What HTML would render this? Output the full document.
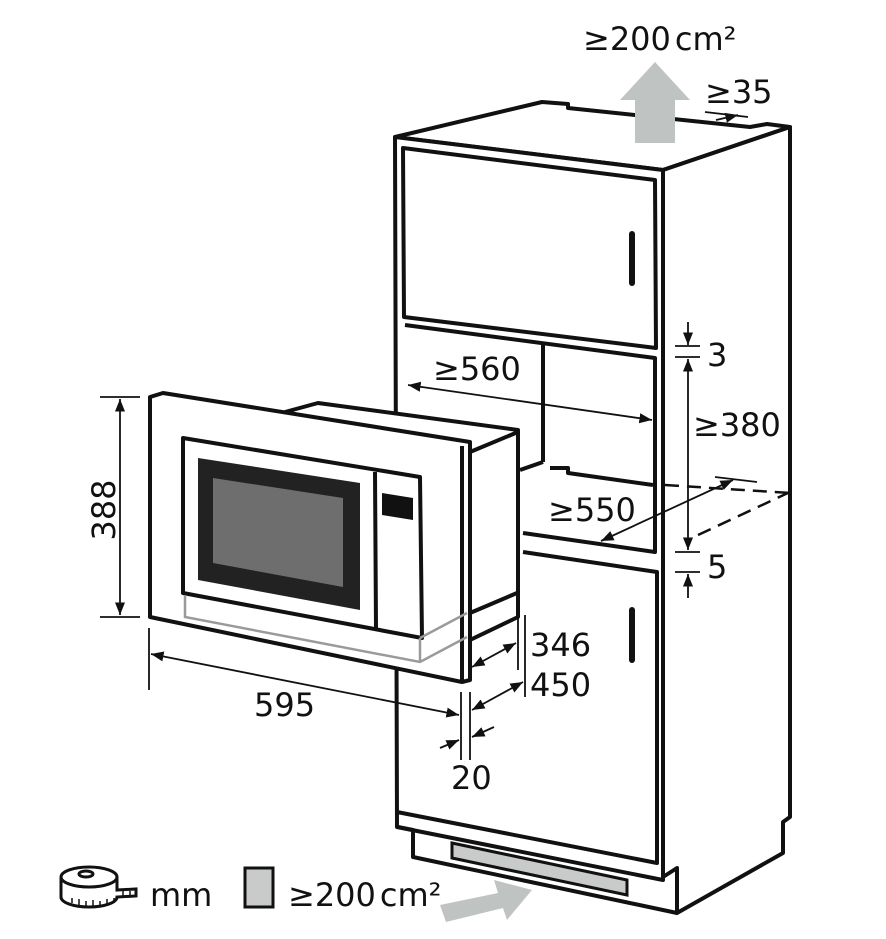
<!DOCTYPE html>
<html><head><meta charset="utf-8"><style>
html,body{margin:0;padding:0;background:#fff}
svg{display:block}
text{font-family:"DejaVu Sans","Liberation Sans",sans-serif;fill:#111}
</style></head><body>
<svg width="886" height="939" viewBox="0 0 886 939" xmlns="http://www.w3.org/2000/svg">
<defs>
<marker id="a" viewBox="0 0 10 10" refX="10" refY="5" markerWidth="7" markerHeight="7" orient="auto-start-reverse"><path d="M0,1 L10,5 L0,9 z" fill="#111"/></marker>
</defs>
<g fill="none" stroke="#111" stroke-width="4" stroke-linejoin="round">
<path d="M395,137 L542,102 L568,104 L568,108 L750,127 L767,124 L790,127 L663,170 Z" fill="#fff"/>
<path d="M663,170 L790,127 L790,817 L783,822 L783,853 L677,913 L677,868 L663,877 Z" fill="#fff"/>
<path d="M395,137 L663,170 L663,880 L397,827 Z" fill="#fff"/>
<path d="M398,827 L413,830 L413,857 L677,913"/>
<path d="M403,148 L655,180 L656,348 L404,317 Z"/>
<line x1="632" y1="234" x2="632" y2="283" stroke-width="6" stroke-linecap="round"/>
<path d="M405,325 L655,358 L655,552 L523,533"/>
<line x1="543" y1="345" x2="543" y2="462"/>
<path d="M543,462 L520,470 M550,468 L568,468 L568,473 L653,485" />
<path d="M523,552 L657,572 L657,863 L397,812"/>
<line x1="632" y1="610" x2="632" y2="660" stroke-width="6" stroke-linecap="round"/>
</g>
<path d="M452,843 L627,880 L627,895 L452,858 Z" fill="#c8cbca" stroke="#111" stroke-width="3"/>
<g stroke="#111" stroke-width="2.5" fill="none" stroke-dasharray="14,8">
<path d="M665,485 L790,493"/>
<path d="M698,535 L790,492"/>
</g>
<g stroke="#111" stroke-width="4" fill="#fff" stroke-linejoin="round">
<path d="M285,412 L318,403 L518,430 L518,617 L470,640 L470,452 Z"/>
<path d="M470,452 L518,432"/>
<path d="M470,613 L517,593"/>
<path d="M150,397 L163,393 L470,442 L470,680 L462,682 L150,617 Z"/>
<path d="M462,446 L462,682" fill="none"/>
<path d="M183,438 L420,477 L422,638 L183,593 Z"/>
<line x1="375" y1="472" x2="376" y2="628"/>
</g>
<path d="M198,458 L360,483 L360,610 L198,580 Z" fill="#222"/>
<path d="M213,478 L343,498 L343,587 L213,563 Z" fill="#6e6e6e"/>
<path d="M382,493 L413,498 L413,520 L382,515 Z" fill="#111"/>
<path d="M185,595 L185,617 L420,662 L467,637 M420,638 L420,662 M420,638 L467,613" stroke="#9a9a9a" stroke-width="2.5" fill="none"/>
<g stroke="#111" stroke-width="1.8" fill="none">
<line x1="100" y1="397" x2="140" y2="397"/><line x1="100" y1="617" x2="140" y2="617"/>
<line x1="120" y1="399" x2="120" y2="615" marker-start="url(#a)" marker-end="url(#a)"/>
<line x1="149" y1="628" x2="149" y2="690"/>
<line x1="151" y1="654" x2="459" y2="715" marker-start="url(#a)" marker-end="url(#a)"/>
<line x1="461" y1="692" x2="461" y2="760"/><line x1="470" y1="692" x2="470" y2="760"/>
<line x1="440" y1="748" x2="459" y2="740" marker-end="url(#a)"/>
<line x1="494" y1="727" x2="472" y2="737" marker-end="url(#a)"/>
<line x1="518" y1="615" x2="518" y2="670"/><line x1="525" y1="615" x2="525" y2="697"/>
<line x1="472" y1="667" x2="516" y2="643" marker-start="url(#a)" marker-end="url(#a)"/>
<line x1="472" y1="710" x2="523" y2="682" marker-start="url(#a)" marker-end="url(#a)"/>
<line x1="408" y1="385" x2="652" y2="420" marker-start="url(#a)" marker-end="url(#a)"/>
<line x1="601" y1="541" x2="733" y2="480" marker-start="url(#a)" marker-end="url(#a)"/>
<line x1="715" y1="477" x2="757" y2="482"/>
<line x1="675" y1="346" x2="700" y2="346"/><line x1="675" y1="357" x2="700" y2="357"/>
<line x1="688" y1="322" x2="688" y2="345" marker-end="url(#a)"/>
<line x1="688" y1="359" x2="688" y2="550" marker-start="url(#a)" marker-end="url(#a)"/>
<line x1="675" y1="552" x2="700" y2="552"/><line x1="675" y1="572" x2="700" y2="572"/>
<line x1="688" y1="598" x2="688" y2="574" marker-end="url(#a)"/>
<line x1="705" y1="112" x2="748" y2="117"/>
<line x1="716" y1="120" x2="738" y2="115" marker-end="url(#a)"/>
</g>
<path d="M635,143 L635,100 L620,100 L655,62 L690,100 L675,100 L675,143 Z" fill="#bfc3c2"/>
<path d="M440,905 L498,893 L494,880 L532,890 L507,920 L503,908 L446,922 Z" fill="#bfc3c2"/>
<g font-size="32">
<text x="583" y="50">≥200<tspan dx="4">cm²</tspan></text>
<text x="705" y="103">≥35</text>
<text x="433" y="380">≥560</text>
<text x="707" y="366">3</text>
<text x="693" y="436">≥380</text>
<text x="548" y="521">≥550</text>
<text x="707" y="578">5</text>
<text x="530" y="656">346</text>
<text x="530" y="696">450</text>
<text x="254" y="716">595</text>
<text x="451" y="789">20</text>
<text transform="translate(115,510) rotate(-90)" text-anchor="middle">388</text>
<text x="150" y="906">mm</text>
<text x="288" y="906">≥200<tspan dx="4">cm²</tspan></text>
</g>
<rect x="245" y="868" width="28" height="39" fill="#c8cbca" stroke="#111" stroke-width="3"/>
<g stroke="#111" stroke-width="3" fill="#fff">
<path d="M61,877 L61,897 A28,10 0 0 0 117,897 L136,896 L136,889 L117,890 L117,877"/>
<ellipse cx="89" cy="877" rx="28" ry="10"/>
<ellipse cx="86" cy="874" rx="7" ry="3"/>
</g>
<g stroke="#111" stroke-width="1.5"><path d="M72,903v-5M79,905v-6M86,906v-5M93,906v-6M100,906v-5M107,905v-6M114,903v-5M123,896v-5M130,896v-5"/></g>
</svg>
</body></html>
